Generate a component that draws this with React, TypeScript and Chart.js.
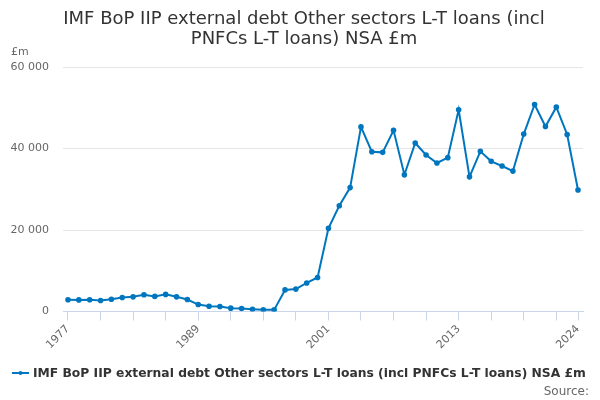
import React, { useEffect, useRef } from 'react';
import { Chart, registerables } from 'chart.js';

Chart.register(...registerables);

const years = [
  1977, 1978, 1979, 1980, 1981, 1982, 1983, 1984, 1985, 1986, 1987, 1988,
  1989, 1990, 1991, 1992, 1993, 1994, 1995, 1996, 1997, 1998, 1999, 2000,
  2001, 2002, 2003, 2004, 2005, 2006, 2007, 2008, 2009, 2010, 2011, 2012,
  2013, 2014, 2015, 2016, 2017, 2018, 2019, 2020, 2021, 2022, 2023, 2024,
];

const debtValues = [
  2900, 2850, 2900, 2700, 3000, 3450, 3600, 4100, 3700, 4200, 3600, 2950,
  1700, 1300, 1230, 820, 740, 570, 400, 400, 5300, 5500, 7000, 8350,
  20400, 25950, 30400, 45300, 39200, 39050, 44450, 33550, 41350, 38400, 36450, 37750,
  49500, 33050, 39300, 36850, 35700, 34450, 43550, 50800, 45400, 50150, 43450, 29800,
];

const xTickYears = [
  1977, 1980, 1983, 1986, 1989, 1992, 1995, 1998, 2001, 2004, 2007, 2010,
  2013, 2016, 2019, 2022, 2024,
];
const xLabelYears = [1977, 1989, 2001, 2013, 2024];

const titleLines = [
  'IMF BoP IIP external debt Other sectors L-T loans (incl',
  'PNFCs L-T loans) NSA £m',
];
const seriesName =
  'IMF BoP IIP external debt Other sectors L-T loans (incl PNFCs L-T loans) NSA £m';
const lineColor = '#0076bf';
const fontFamily = '"DejaVu Sans", sans-serif';

const formatThousands = (v: number) =>
  String(v).replace(/\B(?=(\d{3})+(?!\d))/g, ' ');

export default function App() {
  const chartRef = useRef<HTMLCanvasElement>(null);
  const chartInstanceRef = useRef<Chart | null>(null);

  useEffect(() => {
    if (!chartRef.current) return;
    if (chartInstanceRef.current) {
      chartInstanceRef.current.destroy();
    }
    const ctx = chartRef.current.getContext('2d');
    if (!ctx) return;

    chartInstanceRef.current = new Chart(ctx, {
      type: 'line',
      data: {
        datasets: [
          {
            label: seriesName,
            data: years.map((y, i) => ({ x: y, y: debtValues[i] })),
            borderColor: lineColor,
            backgroundColor: lineColor,
            borderWidth: 2,
            pointRadius: 1.8,
            pointHoverRadius: 1.8,
            tension: 0,
          },
        ],
      },
      options: {
        responsive: false,
        animation: false,
        layout: {
          padding: { left: 0, right: 17, top: 67, bottom: 48 },
        },
        plugins: {
          legend: { display: false },
          tooltip: { enabled: false },
          title: { display: false },
        },
        scales: {
          x: {
            type: 'linear',
            min: 1976.54,
            max: 2024.46,
            afterBuildTicks: (scale: any) => {
              scale.ticks = xTickYears.map(v => ({ value: v }));
            },
            afterFit: (scale: any) => {
              scale.height = 40.5;
            },
            ticks: {
              autoSkip: false,
              minRotation: 45,
              maxRotation: 45,
              padding: 2,
              color: '#666666',
              font: { family: fontFamily, size: 11 },
              callback: (v: any) => (xLabelYears.includes(Number(v)) ? String(v) : ''),
            },
            grid: {
              drawOnChartArea: false,
              drawTicks: true,
              tickLength: 9,
              color: '#ccd6eb',
            },
            border: { display: true, color: '#ccd6eb', width: 1 },
          },
          y: {
            min: 0,
            max: 60000,
            afterFit: (scale: any) => {
              scale.width = 63;
            },
            ticks: {
              stepSize: 20000,
              padding: 14,
              color: '#666666',
              font: { family: fontFamily, size: 11 },
              callback: (v: any) => formatThousands(Number(v)),
            },
            grid: {
              color: '#e6e6e6',
              drawTicks: false,
            },
            border: { display: false },
          },
        },
      },
    });

    return () => {
      if (chartInstanceRef.current) {
        chartInstanceRef.current.destroy();
        chartInstanceRef.current = null;
      }
    };
  }, []);

  return (
    <div
      style={{
        position: 'fixed',
        left: 0,
        top: 0,
        width: 600,
        height: 400,
        background: '#ffffff',
        fontFamily,
      }}
    >
      <canvas ref={chartRef} width={600} height={400} style={{ display: 'block' }} />
      <div
        style={{
          position: 'absolute',
          left: 0,
          top: 8,
          width: 608,
          textAlign: 'center',
          fontSize: 18,
          lineHeight: '20px',
          color: '#333333',
        }}
      >
        {titleLines.map(line => (
          <div key={line}>{line}</div>
        ))}
      </div>
      <div style={{ position: 'absolute', left: 11, top: 45, fontSize: 11, color: '#666666' }}>
        £m
      </div>
      <div
        style={{
          position: 'absolute',
          left: 12,
          top: 366,
          display: 'flex',
          alignItems: 'center',
          whiteSpace: 'nowrap',
        }}
      >
        <svg width={17} height={8} style={{ marginRight: 4 }}>
          <line x1={0} y1={4} x2={17} y2={4} stroke={lineColor} strokeWidth={2} />
          <circle cx={8.5} cy={4} r={2} fill={lineColor} />
        </svg>
        <span style={{ fontSize: 12.3, fontWeight: 'bold', color: '#333333' }}>{seriesName}</span>
      </div>
      <div
        style={{ position: 'absolute', right: 11, top: 384, fontSize: 12, color: '#666666' }}
      >
        Source:
      </div>
    </div>
  );
}
